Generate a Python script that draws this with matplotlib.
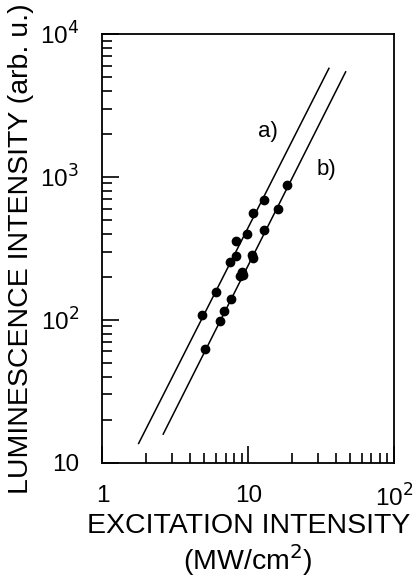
import matplotlib
matplotlib.use('Agg')
import matplotlib.pyplot as plt
from matplotlib.ticker import LogLocator, NullFormatter, FixedLocator

plt.rcParams['font.family'] = ['Liberation Sans', 'DejaVu Sans']

# measured points, sample a)
xa = [4.79, 6.0, 7.49, 8.24, 8.24, 9.84, 10.8, 12.9]
ya = [108, 157, 255, 279, 354, 400, 556, 689]

# measured points, sample b)
xb = [5.07, 6.37, 6.85, 7.65, 8.77, 9.0, 9.24, 10.55, 10.8, 12.9, 16.0, 18.4]
yb = [62, 97.5, 115, 140, 202, 215, 206, 284, 269, 427, 599, 873]

# fitted lines (slope ~2), end points
fit_a_x = [1.77, 35.8]
fit_a_y = [13.6, 5750]
fit_b_x = [2.61, 46.6]
fit_b_y = [15.8, 5430]

fig = plt.figure(figsize=(4.2, 5.82), dpi=100)
ax = fig.add_axes([0.244, 0.2053, 0.694, 0.7363])

ax.plot(fit_a_x, fit_a_y, color='black', lw=1.1)
ax.plot(fit_b_x, fit_b_y, color='black', lw=1.1)
ax.plot(xa, ya, 'o', color='black', ms=6)
ax.plot(xb, yb, 'o', color='black', ms=6)

ax.set_xscale('log')
ax.set_yscale('log')
ax.set_xlim(1, 100)
ax.set_ylim(10, 1e4)

ax.text(13.65, 2075, 'a)', fontsize=16, ha='center', va='center')
ax.text(34.5, 1117, 'b)', fontsize=16, ha='center', va='center')

ax.xaxis.set_major_locator(FixedLocator([1, 10, 100]))
ax.yaxis.set_major_locator(FixedLocator([10, 100, 1000, 10000]))
ax.xaxis.set_minor_locator(LogLocator(base=10, subs=range(2, 10)))
ax.yaxis.set_minor_locator(LogLocator(base=10, subs=range(2, 10)))
ax.xaxis.set_minor_formatter(NullFormatter())
ax.yaxis.set_minor_formatter(NullFormatter())
ax.set_xticklabels(['1', '10', r'10$^2$'])
ax.set_yticklabels(['10', r'10$^2$', r'10$^3$', r'10$^4$'])

ax.tick_params(which='both', direction='in', top=False, right=False,
               labelsize=17.5, width=1.2)
ax.tick_params(axis='y', which='major', length=12, pad=17)
ax.tick_params(axis='x', which='major', length=12, pad=16)
ax.tick_params(which='minor', length=7)
for s in ax.spines.values():
    s.set_linewidth(1.3)

ax.set_xlabel('EXCITATION INTENSITY\n(MW/cm$^2$)', fontsize=20.5, labelpad=1,
              linespacing=1.1)
ax.set_ylabel('LUMINESCENCE INTENSITY (arb. u.)', fontsize=20.5, labelpad=4)

plt.savefig('out.png', dpi=100)
